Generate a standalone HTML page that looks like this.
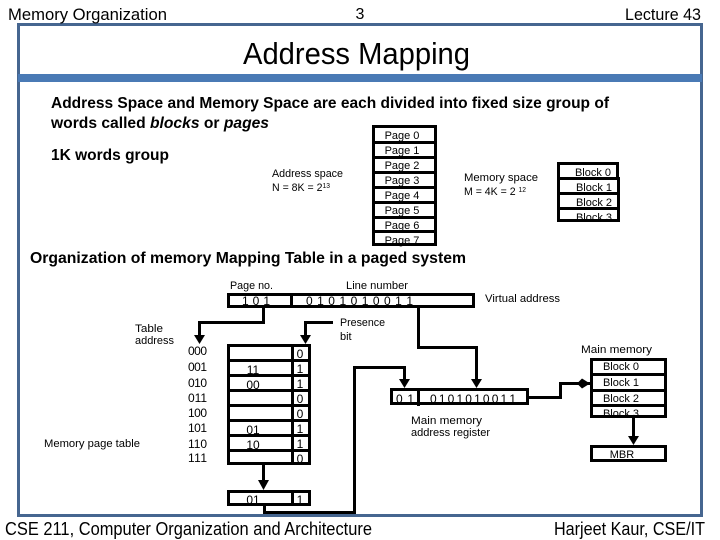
<!DOCTYPE html>
<html><head><meta charset="utf-8"><style>
html,body{margin:0;padding:0;background:#fff}
svg{display:block}
text{font-family:"Liberation Sans",sans-serif;fill:#000}
.l{fill:none;stroke:#000;stroke-width:3}
.c{text-anchor:middle}
.s{font-size:11px}
.m{font-size:12px}
</style></head><body>
<svg width="720" height="540" viewBox="0 0 720 540" xmlns="http://www.w3.org/2000/svg">
<rect width="720" height="540" fill="#fff"/>
<!-- frame -->
<rect x="18.500" y="24.500" width="683" height="491" fill="none" stroke="#466690" stroke-width="3"/>
<rect x="18" y="74" width="684" height="8" fill="#4a7ab5"/>
<!-- header / footer -->
<text x="8" y="20" font-size="17" textLength="159" lengthAdjust="spacingAndGlyphs">Memory Organization</text>
<text x="360" y="19" font-size="16" class="c">3</text>
<text x="625" y="20" font-size="17" textLength="76" lengthAdjust="spacingAndGlyphs">Lecture 43</text>
<text x="243" y="64" font-size="31" textLength="227" lengthAdjust="spacingAndGlyphs">Address Mapping</text>
<text x="5" y="535" font-size="18" textLength="367" lengthAdjust="spacingAndGlyphs">CSE 211, Computer Organization and Architecture</text>
<text x="554" y="535" font-size="18" textLength="151" lengthAdjust="spacingAndGlyphs">Harjeet Kaur, CSE/IT</text>
<!-- bold body -->
<g font-weight="bold" font-size="16">
<text x="51" y="108" textLength="558" lengthAdjust="spacingAndGlyphs">Address Space and Memory Space are each divided into fixed size group of</text>
<text x="51" y="128" textLength="218" lengthAdjust="spacingAndGlyphs">words called <tspan font-style="italic">blocks</tspan>  or <tspan font-style="italic">pages</tspan></text>
<text x="51" y="160" textLength="118" lengthAdjust="spacingAndGlyphs">1K words group</text>
<text x="30" y="263" textLength="436" lengthAdjust="spacingAndGlyphs">Organization of memory Mapping Table in a paged system</text>
</g>
<text x="272" y="177" class="s" textLength="71" lengthAdjust="spacingAndGlyphs">Address space</text>
<text x="272" y="191" class="s" textLength="58" lengthAdjust="spacingAndGlyphs">N = 8K = 2<tspan font-size="7" dy="-3">13</tspan></text>
<text x="464" y="181" class="s" textLength="74" lengthAdjust="spacingAndGlyphs">Memory space</text>
<text x="464" y="195" class="s" textLength="62" lengthAdjust="spacingAndGlyphs">M = 4K = 2 <tspan font-size="7" dy="-3">12</tspan></text>
<!-- pages -->
<g class="s" text-anchor="middle">
<text x="402" y="139">Page 0</text><text x="402" y="154">Page 1</text><text x="402" y="169">Page 2</text><text x="402" y="184">Page 3</text><text x="402" y="199">Page 4</text><text x="402" y="214">Page 5</text><text x="402" y="229">Page 6</text><text x="402" y="244">Page 7</text>
<text x="593" y="176">Block 0</text><text x="594" y="191">Block 1</text><text x="594" y="206">Block 2</text><text x="594" y="221">Block 3</text>
</g>
<rect x="373.500" y="126.500" width="62" height="118" class="l"/>
<path class="l" d="M373 142.500H436M373 157.500H436M373 172.500H436M373 187.500H436M373 202.500H436M373 217.500H436M373 231.500H436"/>
<path class="l" d="M558.500 178V163.500H617.500V178"/>
<rect x="558.500" y="178.500" width="60" height="42" class="l"/>
<path class="l" d="M558 193.500H619M558 208.500H619"/>
<!-- virtual address -->
<text x="230" y="289" class="s" textLength="43" lengthAdjust="spacingAndGlyphs">Page no.</text>
<text x="346" y="289" class="s" textLength="62" lengthAdjust="spacingAndGlyphs">Line number</text>
<text x="485" y="302" class="s" textLength="75" lengthAdjust="spacingAndGlyphs">Virtual address</text>
<text x="242" y="305" class="m" textLength="28">1 0 1</text>
<text x="306" y="305" class="m" textLength="107">0 1 0 1 0 1 0 0 1 1</text>
<rect x="228.500" y="294.500" width="245" height="12" class="l"/>
<path class="l" d="M291.500 293V308"/>
<!-- table labels -->
<text x="135" y="332" class="s" textLength="28" lengthAdjust="spacingAndGlyphs">Table</text>
<text x="135" y="344" class="s" textLength="39" lengthAdjust="spacingAndGlyphs">address</text>
<text x="44" y="447" class="s" textLength="96" lengthAdjust="spacingAndGlyphs">Memory page table</text>
<text x="340" y="326" class="s" textLength="45" lengthAdjust="spacingAndGlyphs">Presence</text>
<text x="340" y="340" class="s">bit</text>
<g class="m">
<text x="188" y="355" textLength="19">000</text><text x="188" y="371" textLength="19">001</text><text x="188" y="387" textLength="19">010</text><text x="188" y="402" textLength="19">011</text><text x="188" y="417" textLength="19">100</text><text x="188" y="432" textLength="19">101</text><text x="188" y="448" textLength="19">110</text><text x="188" y="462" textLength="19">111</text>
</g>
<!-- page table -->
<g class="m" text-anchor="middle">
<text x="253" y="374">11</text><text x="253" y="389">00</text><text x="253" y="434">01</text><text x="253" y="449">10</text>
<text x="300" y="358">0</text><text x="300" y="373">1</text><text x="300" y="388">1</text><text x="300" y="403">0</text><text x="300" y="418">0</text><text x="300" y="433">1</text><text x="300" y="448">1</text><text x="300" y="463">0</text>
<text x="253" y="504">01</text><text x="300" y="504">1</text>
</g>
<rect x="228.500" y="345.500" width="81" height="118" class="l"/>
<path class="l" d="M292.500 344V464M227 360.500H311M227 375.500H311M227 390.500H311M227 405.500H311M227 420.500H311M227 435.500H311M227 450.500H311"/>
<rect x="228.500" y="491.500" width="81" height="13" class="l"/>
<path class="l" d="M292.500 490V505"/>
<!-- connectors -->
<path class="l" d="M263.500 307V322.500H199.500V336"/>
<path d="M194 335H205L199.500 344Z"/>
<path class="l" d="M333 322.500H305.500V336"/>
<path d="M300 335H311L305.500 344Z"/>
<path class="l" d="M263.500 464V482"/>
<path d="M258 480H269L263.500 490Z"/>
<path class="l" d="M264.500 505V512.500H354.500V367.500H404.500V380"/>
<path d="M399 379H410L404.500 388Z"/>
<path class="l" d="M418.500 307V347.500H476.500V380"/>
<path d="M471 379H482L476.500 388Z"/>
<path class="l" d="M529 397.500H560.500V383.500H590"/>
<path d="M582 378.500L577 383.500L582 388.500L590 383.500Z"/>
<path class="l" d="M633.500 418V437"/>
<path d="M628 436H639L633.500 445Z"/>
<!-- MMAR -->
<text x="396" y="403" class="m" textLength="18">0 1</text>
<text x="430" y="403" class="m" textLength="86">0 1 0 1 0 1 0 0 1 1</text>
<rect x="391.500" y="389.500" width="136" height="14" class="l"/>
<path class="l" d="M418.500 388V406"/>
<text x="411" y="424" class="s" textLength="71" lengthAdjust="spacingAndGlyphs">Main memory</text>
<text x="411" y="436" class="s" textLength="79" lengthAdjust="spacingAndGlyphs">address register</text>
<!-- main memory -->
<text x="581" y="353" class="s" textLength="71" lengthAdjust="spacingAndGlyphs">Main memory</text>
<g class="s" text-anchor="middle">
<text x="621" y="370">Block 0</text><text x="621" y="386">Block 1</text><text x="621" y="402">Block 2</text><text x="621" y="417">Block 3</text>
<text x="622" y="458">MBR</text>
</g>
<rect x="591.500" y="359.500" width="74" height="57" class="l"/>
<path class="l" d="M590 374.500H667M590 390.500H667M590 405.500H667"/>
<rect x="591.500" y="446.500" width="74" height="14" class="l"/>
</svg>
</body></html>
